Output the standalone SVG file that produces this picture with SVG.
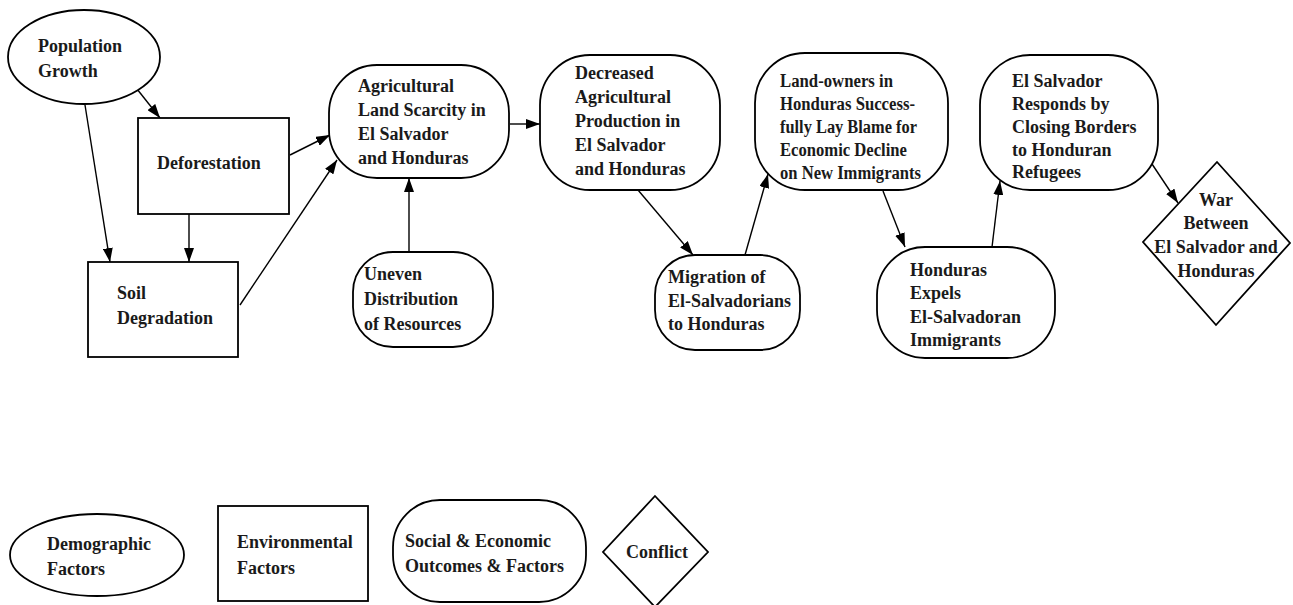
<svg xmlns="http://www.w3.org/2000/svg" width="1293" height="605" viewBox="0 0 1293 605">
  <style>
    .node { fill: #ffffff; stroke: #000000; stroke-width: 1.8; }
    .lbl { font-family: "Liberation Serif", "Times New Roman", serif; font-weight: bold; font-size: 18px; fill: #1a1a1a; }
    .mid { text-anchor: middle; }
    .edge { stroke: #000000; stroke-width: 1.4; fill: none; marker-end: url(#arrow); }
  </style>
  <defs>
    <marker id="arrow" viewBox="0 0 14 10" refX="14" refY="5" markerWidth="14" markerHeight="10" markerUnits="userSpaceOnUse" orient="auto">
      <path d="M0,0 L14,5 L0,10 Z" fill="#000000"/>
    </marker>
  </defs>
  <rect width="1293" height="605" fill="#ffffff"/>

  <!-- connectors -->
  <g id="connectors">
    <line class="edge" x1="137" y1="89" x2="160" y2="118"/>
    <line class="edge" x1="85" y1="105" x2="110" y2="262"/>
    <line class="edge" x1="189" y1="214" x2="189" y2="262"/>
    <line class="edge" x1="290" y1="155" x2="330" y2="135"/>
    <line class="edge" x1="240" y1="305" x2="337" y2="160"/>
    <line class="edge" x1="409" y1="252" x2="409" y2="178"/>
    <line class="edge" x1="510" y1="124" x2="540" y2="124"/>
    <line class="edge" x1="638" y1="190" x2="693" y2="255"/>
    <line class="edge" x1="745" y1="255" x2="768" y2="174"/>
    <line class="edge" x1="883" y1="191" x2="905" y2="247"/>
    <line class="edge" x1="992" y1="247" x2="1000" y2="181"/>
    <line class="edge" x1="1152" y1="164" x2="1178" y2="203"/>
  </g>

  <!-- demographic -->
  <g id="population-growth">
    <ellipse class="node" cx="84" cy="57" rx="76" ry="47"/>
    <text class="lbl" x="38" y="52">Population</text>
    <text class="lbl" x="38" y="77">Growth</text>
  </g>

  <!-- environmental -->
  <g id="deforestation">
    <rect class="node" x="138" y="118" width="151" height="96"/>
    <text class="lbl" x="157" y="169">Deforestation</text>
  </g>
  <g id="soil-degradation">
    <rect class="node" x="88" y="262" width="150" height="95"/>
    <text class="lbl" x="117" y="299">Soil</text>
    <text class="lbl" x="117" y="324">Degradation</text>
  </g>

  <!-- social and economic -->
  <g id="land-scarcity">
    <rect class="node" x="329" y="65" width="180" height="113" rx="48" ry="48"/>
    <text class="lbl" x="358" y="92">Agricultural</text>
    <text class="lbl" x="358" y="116">Land Scarcity in</text>
    <text class="lbl" x="358" y="140">El Salvador</text>
    <text class="lbl" x="358" y="164">and Honduras</text>
  </g>
  <g id="uneven-distribution">
    <rect class="node" x="353" y="252" width="140" height="95" rx="40" ry="40"/>
    <text class="lbl" x="364" y="280">Uneven</text>
    <text class="lbl" x="364" y="305">Distribution</text>
    <text class="lbl" x="364" y="330">of Resources</text>
  </g>
  <g id="decreased-production">
    <rect class="node" x="540" y="55" width="180" height="135" rx="50" ry="50"/>
    <text class="lbl" x="575" y="79">Decreased</text>
    <text class="lbl" x="575" y="103">Agricultural</text>
    <text class="lbl" x="575" y="127">Production in</text>
    <text class="lbl" x="575" y="151">El Salvador</text>
    <text class="lbl" x="575" y="175">and Honduras</text>
  </g>
  <g id="migration">
    <rect class="node" x="655" y="255" width="145" height="95" rx="40" ry="40"/>
    <text class="lbl" x="668" y="283">Migration of</text>
    <text class="lbl" x="668" y="307">El-Salvadorians</text>
    <text class="lbl" x="668" y="330">to Honduras</text>
  </g>
  <g id="land-owners-blame">
    <rect class="node" x="755" y="53" width="193" height="137" rx="50" ry="50"/>
    <text class="lbl" x="780" y="87" textLength="113" lengthAdjust="spacingAndGlyphs">Land-owners in</text>
    <text class="lbl" x="780" y="110" textLength="135" lengthAdjust="spacingAndGlyphs">Honduras Success-</text>
    <text class="lbl" x="780" y="133" textLength="137" lengthAdjust="spacingAndGlyphs">fully Lay Blame for</text>
    <text class="lbl" x="780" y="156" textLength="127" lengthAdjust="spacingAndGlyphs">Economic Decline</text>
    <text class="lbl" x="780" y="179" textLength="141" lengthAdjust="spacingAndGlyphs">on New Immigrants</text>
  </g>
  <g id="honduras-expels">
    <rect class="node" x="877" y="247" width="178" height="111" rx="48" ry="48"/>
    <text class="lbl" x="910" y="276">Honduras</text>
    <text class="lbl" x="910" y="299">Expels</text>
    <text class="lbl" x="910" y="323">El-Salvadoran</text>
    <text class="lbl" x="910" y="346">Immigrants</text>
  </g>
  <g id="closing-borders">
    <rect class="node" x="980" y="55" width="178" height="135" rx="50" ry="50"/>
    <text class="lbl" x="1012" y="87">El Salvador</text>
    <text class="lbl" x="1012" y="110">Responds by</text>
    <text class="lbl" x="1012" y="133">Closing Borders</text>
    <text class="lbl" x="1012" y="156">to Honduran</text>
    <text class="lbl" x="1012" y="178">Refugees</text>
  </g>

  <!-- conflict -->
  <g id="war">
    <polygon class="node" points="1217,162 1290,243 1216,325 1143,242"/>
    <text class="lbl mid" x="1216" y="206">War</text>
    <text class="lbl mid" x="1216" y="229">Between</text>
    <text class="lbl mid" x="1216" y="253">El Salvador and</text>
    <text class="lbl mid" x="1216" y="277">Honduras</text>
  </g>

  <!-- legend -->
  <g id="legend-demographic">
    <ellipse class="node" cx="97" cy="555" rx="87" ry="41"/>
    <text class="lbl" x="47" y="550">Demographic</text>
    <text class="lbl" x="47" y="575">Factors</text>
  </g>
  <g id="legend-environmental">
    <rect class="node" x="218" y="506" width="150" height="95"/>
    <text class="lbl" x="237" y="548">Environmental</text>
    <text class="lbl" x="237" y="574">Factors</text>
  </g>
  <g id="legend-social">
    <rect class="node" x="393" y="500" width="193" height="102" rx="47" ry="47"/>
    <text class="lbl" x="405" y="547">Social &amp; Economic</text>
    <text class="lbl" x="405" y="572">Outcomes &amp; Factors</text>
  </g>
  <g id="legend-conflict">
    <polygon class="node" points="655,496 708,552 655,607 603,552"/>
    <text class="lbl mid" x="657" y="558">Conflict</text>
  </g>
</svg>
